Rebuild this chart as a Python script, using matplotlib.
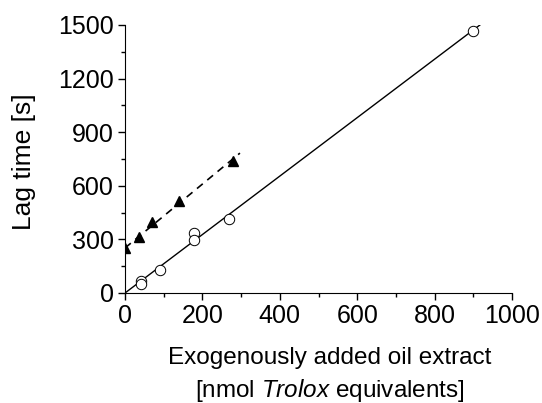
import matplotlib
matplotlib.use("Agg")
import matplotlib.pyplot as plt
from matplotlib.ticker import MultipleLocator

plt.rcParams["font.family"] = ["Liberation Sans", "DejaVu Sans"]
plt.rcParams["mathtext.fontset"] = "custom"
plt.rcParams["mathtext.rm"] = "Liberation Sans"
plt.rcParams["mathtext.it"] = "Liberation Sans:italic"

# Trolox-Kalibrierung (offene Kreise) und Ölextrakt (gefüllte Dreiecke)
trolox_x = [42, 42, 90, 179, 179, 269, 898]
trolox_y = [67, 50, 129, 337, 297, 414, 1466]
oil_x = [0, 35, 70, 140, 280]
oil_y = [252, 312, 400, 515, 740]

# Regressionsgeraden
trolox_fit_x = [0, 917]
trolox_fit_y = [0, 1500]
oil_fit_x = [0, 297]
oil_fit_y = [252, 783]

fig = plt.figure(figsize=(5.42, 4.03), dpi=100)
ax = fig.add_axes([125 / 542, 1 - 293 / 403, 387 / 542, 268 / 403])

ax.plot(trolox_fit_x, trolox_fit_y, color="black", lw=1)
ax.plot(oil_fit_x, oil_fit_y, color="black", lw=1.2, ls=(0, (4.5, 3.5)))
ax.plot(trolox_x, trolox_y, "o", mfc="white", mec="black", ms=7.5, mew=0.7, zorder=3)
ax.plot(oil_x, oil_y, "^", color="black", ms=7.5, zorder=3)

ax.set_xlim(0, 1000)
ax.set_ylim(0, 1500)
ax.xaxis.set_major_locator(MultipleLocator(200))
ax.xaxis.set_minor_locator(MultipleLocator(100))
ax.yaxis.set_major_locator(MultipleLocator(300))
ax.yaxis.set_minor_locator(MultipleLocator(150))
ax.spines["top"].set_visible(False)
ax.spines["right"].set_visible(False)
ax.tick_params(which="major", direction="out", length=5, width=1, labelsize=18, pad=3)
ax.tick_params(which="minor", direction="out", length=3, width=1)

fig.text(24 / 542, 1 - 162 / 403, "Lag time [s]", rotation=90, fontsize=19,
         ha="center", va="center")
fig.text(330 / 542, 1 - 358 / 403, "Exogenously added oil extract", fontsize=17.5,
         ha="center", va="center")
fig.text(330 / 542, 1 - 390 / 403, "[nmol $\\it{Trolox}$ equivalents]", fontsize=17.5,
         ha="center", va="center")

fig.savefig("out.png", dpi=100)
